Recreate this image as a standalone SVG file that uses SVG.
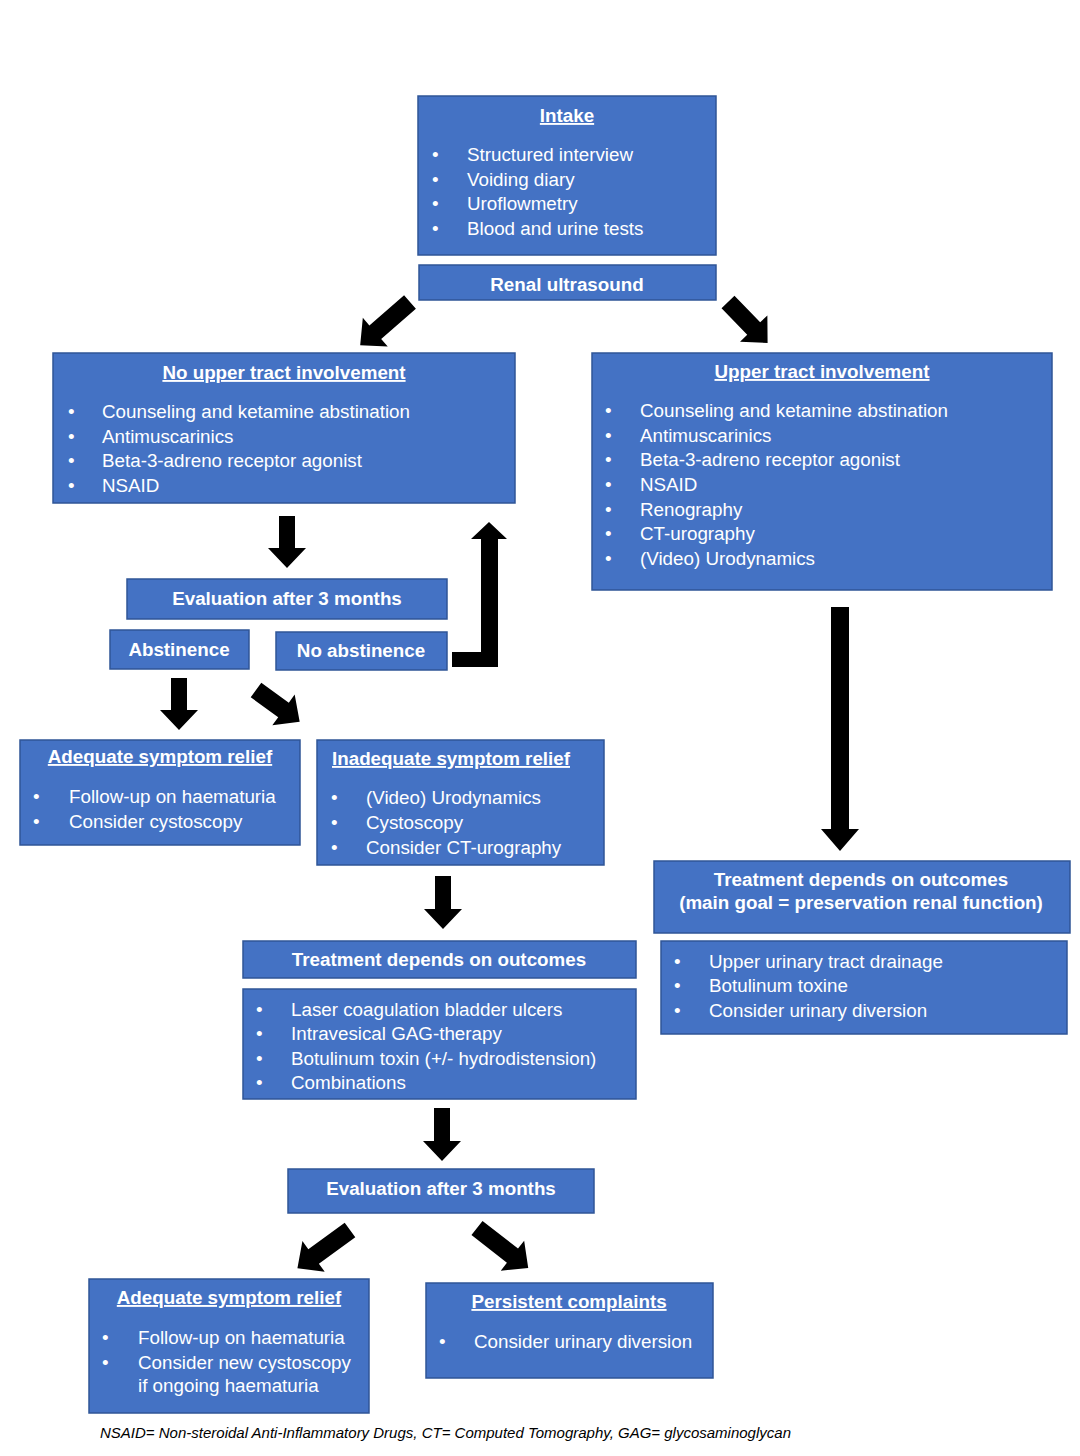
<svg xmlns="http://www.w3.org/2000/svg" width="1080" height="1456" viewBox="0 0 1080 1456">
<style>
.b{fill:#4472C4;stroke:#2F5597;stroke-width:1.5}
text{font-family:"Liberation Sans",Arial,sans-serif;fill:#fff;font-size:18.8px}
.t{font-weight:bold;text-anchor:middle;text-decoration:underline}
.h{font-weight:bold;text-anchor:middle}
.a{fill:#000}
.f{fill:#000;font-style:italic;font-size:15px}
</style>
<rect width="1080" height="1456" fill="#fff"/>
<g id="intake">
<rect class="b" x="418" y="96" width="298" height="159"/>
<text class="t" x="567" y="122">Intake</text>
<text x="432" y="161">•</text><text x="467" y="161">Structured interview</text>
<text x="432" y="186">•</text><text x="467" y="186">Voiding diary</text>
<text x="432" y="210">•</text><text x="467" y="210">Uroflowmetry</text>
<text x="432" y="235">•</text><text x="467" y="235">Blood and urine tests</text>
</g>
<g id="renal">
<rect class="b" x="419" y="265" width="297" height="35"/>
<text class="h" x="567" y="291">Renal ultrasound</text>
</g>
<g id="noupper">
<rect class="b" x="53" y="353" width="462" height="150"/>
<text class="t" x="284" y="379">No upper tract involvement</text>
<text x="68" y="418">•</text><text x="102" y="418">Counseling and ketamine abstination</text>
<text x="68" y="443">•</text><text x="102" y="443">Antimuscarinics</text>
<text x="68" y="467">•</text><text x="102" y="467">Beta-3-adreno receptor agonist</text>
<text x="68" y="492">•</text><text x="102" y="492">NSAID</text>
</g>
<g id="upper">
<rect class="b" x="592" y="353" width="460" height="237"/>
<text class="t" x="822" y="378">Upper tract involvement</text>
<text x="605" y="417">•</text><text x="640" y="417">Counseling and ketamine abstination</text>
<text x="605" y="442">•</text><text x="640" y="442">Antimuscarinics</text>
<text x="605" y="466">•</text><text x="640" y="466">Beta-3-adreno receptor agonist</text>
<text x="605" y="491">•</text><text x="640" y="491">NSAID</text>
<text x="605" y="516">•</text><text x="640" y="516">Renography</text>
<text x="605" y="540">•</text><text x="640" y="540">CT-urography</text>
<text x="605" y="565">•</text><text x="640" y="565">(Video) Urodynamics</text>
</g>
<g id="eval1">
<rect class="b" x="127" y="579" width="320" height="40"/>
<text class="h" x="287" y="605">Evaluation after 3 months</text>
</g>
<g id="abst">
<rect class="b" x="110" y="630" width="139" height="39"/>
<text class="h" x="179" y="656">Abstinence</text>
</g>
<g id="noabst">
<rect class="b" x="276" y="632" width="171" height="38"/>
<text class="h" x="361" y="657">No abstinence</text>
</g>
<g id="adequate1">
<rect class="b" x="20" y="740" width="280" height="105"/>
<text class="t" x="160" y="763">Adequate symptom relief</text>
<text x="33" y="803">•</text><text x="69" y="803">Follow-up on haematuria</text>
<text x="33" y="828">•</text><text x="69" y="828">Consider cystoscopy</text>
</g>
<g id="inadequate">
<rect class="b" x="317" y="740" width="287" height="125"/>
<text class="t" x="451" y="765">Inadequate symptom relief</text>
<text x="331" y="804">•</text><text x="366" y="804">(Video) Urodynamics</text>
<text x="331" y="829">•</text><text x="366" y="829">Cystoscopy</text>
<text x="331" y="854">•</text><text x="366" y="854">Consider CT-urography</text>
</g>
<g id="treat2">
<rect class="b" x="654" y="861" width="416" height="72"/>
<text class="h" x="861" y="886">Treatment depends on outcomes</text>
<text class="h" x="861" y="909">(main goal = preservation renal function)</text>
</g>
<g id="treat2list">
<rect class="b" x="661" y="941" width="406" height="93"/>
<text x="674" y="968">•</text><text x="709" y="968">Upper urinary tract drainage</text>
<text x="674" y="992">•</text><text x="709" y="992">Botulinum toxine</text>
<text x="674" y="1017">•</text><text x="709" y="1017">Consider urinary diversion</text>
</g>
<g id="treat1">
<rect class="b" x="243" y="941" width="393" height="37"/>
<text class="h" x="439" y="966">Treatment depends on outcomes</text>
</g>
<g id="treat1list">
<rect class="b" x="243" y="989" width="393" height="110"/>
<text x="256" y="1016">•</text><text x="291" y="1016">Laser coagulation bladder ulcers</text>
<text x="256" y="1040">•</text><text x="291" y="1040">Intravesical GAG-therapy</text>
<text x="256" y="1065">•</text><text x="291" y="1065">Botulinum toxin (+/- hydrodistension)</text>
<text x="256" y="1089">•</text><text x="291" y="1089">Combinations</text>
</g>
<g id="eval2">
<rect class="b" x="288" y="1169" width="306" height="44"/>
<text class="h" x="441" y="1195">Evaluation after 3 months</text>
</g>
<g id="adequate2">
<rect class="b" x="89" y="1279" width="280" height="134"/>
<text class="t" x="229" y="1304">Adequate symptom relief</text>
<text x="102" y="1344">•</text><text x="138" y="1344">Follow-up on haematuria</text>
<text x="102" y="1369">•</text><text x="138" y="1369">Consider new cystoscopy</text>
<text x="138" y="1392">if ongoing haematuria</text>
</g>
<g id="persistent">
<rect class="b" x="426" y="1283" width="287" height="95"/>
<text class="t" x="569" y="1308">Persistent complaints</text>
<text x="439" y="1348">•</text><text x="474" y="1348">Consider urinary diversion</text>
</g>
<g id="connectors" class="a">
<polygon transform="translate(410,302) rotate(49)" points="-9,0 9,0 9,46 19,46 0,66 -19,46 -9,46"/>
<polygon transform="translate(728,302) rotate(-44)" points="-9,0 9,0 9,37 19,37 0,57 -19,37 -9,37"/>
<polygon transform="translate(287,516)" points="-8,0 8,0 8,32 19,32 0,52 -19,32 -8,32"/>
<polygon points="452,652 481,652 481,539 471,539 489,522 507,539 498,539 498,667 452,667"/>
<polygon transform="translate(179,678)" points="-8,0 8,0 8,32 19,32 0,52 -19,32 -8,32"/>
<polygon transform="translate(256,690) rotate(-54)" points="-9,0 9,0 9,34 19,34 0,54 -19,34 -9,34"/>
<polygon transform="translate(840,607)" points="-9,0 9,0 9,222 19,222 0,244 -19,222 -9,222"/>
<polygon transform="translate(443,876)" points="-8,0 8,0 8,33 19,33 0,53 -19,33 -8,33"/>
<polygon transform="translate(442,1108)" points="-8,0 8,0 8,33 19,33 0,53 -19,33 -8,33"/>
<polygon transform="translate(350,1230) rotate(54)" points="-9,0 9,0 9,45 19,45 0,65 -19,45 -9,45"/>
<polygon transform="translate(477,1228) rotate(-52)" points="-9,0 9,0 9,45 19,45 0,65 -19,45 -9,45"/>
</g>
<text class="f" x="100" y="1438">NSAID= Non-steroidal Anti-Inflammatory Drugs, CT= Computed Tomography, GAG= glycosaminoglycan</text>
</svg>
